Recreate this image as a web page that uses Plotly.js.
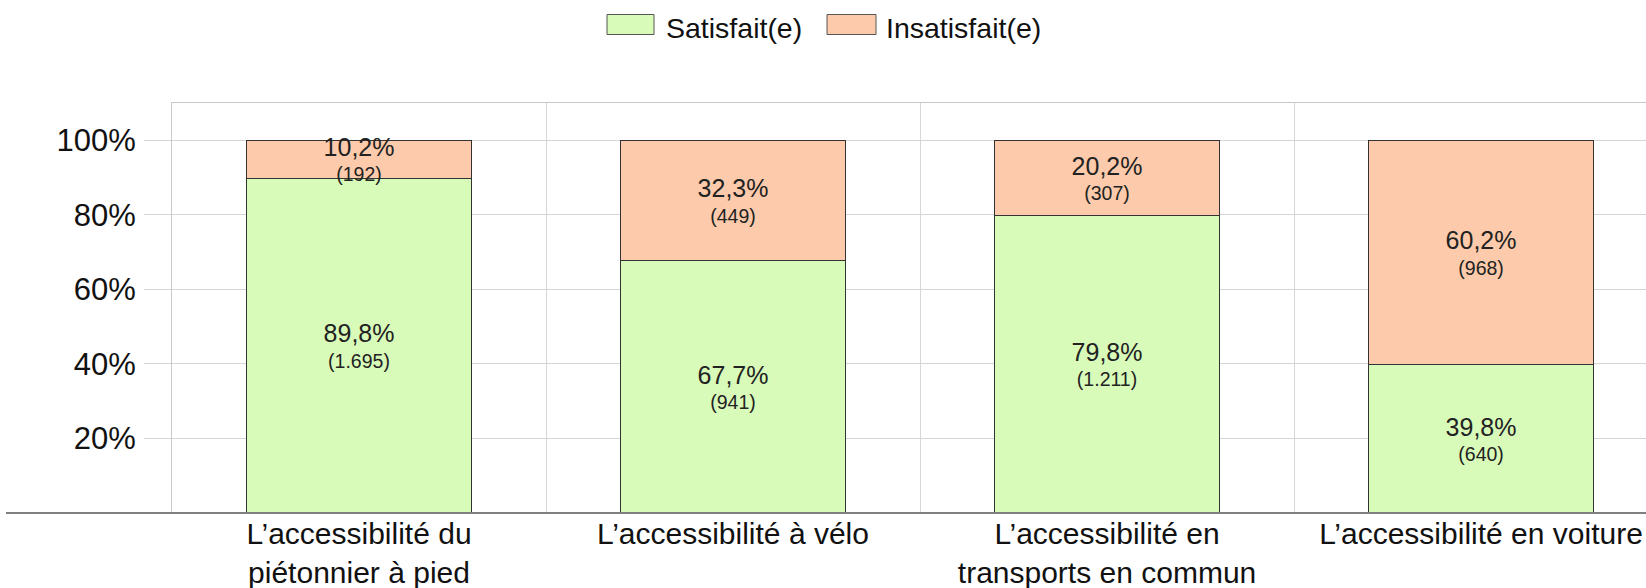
<!DOCTYPE html>
<html>
<head>
<meta charset="utf-8">
<script src="https://cdn.plot.ly/plotly-3.0.1.min.js"></script>
<style>
html, body { margin: 0; padding: 0; background: #ffffff; overflow: hidden; }
#chart { width: 1646px; height: 588px; }
</style>
</head>
<body>
<div id="chart"></div>
<script>
// ---- data ----
const categories = [
  "L\u2019accessibilité du<br>piétonnier à pied",
  "L\u2019accessibilité à vélo",
  "L\u2019accessibilité en<br>transports en commun",
  "L\u2019accessibilité en voiture"
];
const seriesNames = ["Satisfait(e)", "Insatisfait(e)"];
const satisfaitPct = [89.8, 67.7, 79.8, 39.8];
const satisfaitCount = [1695, 941, 1211, 640];
const insatisfaitPct = [10.2, 32.3, 20.2, 60.2];
const insatisfaitCount = [192, 449, 307, 968];
const yTickValues = [20, 40, 60, 80, 100];
const yTickLabels = ["20%", "40%", "60%", "80%", "100%"];

// ---- style ----
const FONT = "Liberation Sans, Arial, sans-serif";
const seriesColors = ["#d9fbb9", "#fdcbab"];
const W = 1646, H = 588;
const ML = 172, MR = 0, MT = 103, MB = 75;
const PW = W - ML - MR, PH = H - MT - MB;
const px = x => (x - ML) / PW;
const py = y => (H - MB - y) / PH;

const labelTemplate = "<span style='font-size:25px'>%{value:.1f}%</span><br>(%{customdata:,})";

function barTrace(name, values, counts, color) {
  return {
    type: "bar",
    name: name,
    x: categories,
    y: values,
    customdata: counts,
    width: 0.6,
    marker: { color: color, line: { color: "#333333", width: 1 } },
    texttemplate: labelTemplate,
    textposition: "inside",
    insidetextanchor: "middle",
    constraintext: "none",
    textangle: 0,
    textfont: { family: FONT, size: 19.5, color: "#222222" },
    cliponaxis: false,
    hoverinfo: "skip",
    showlegend: false
  };
}

const traces = [
  barTrace(seriesNames[0], satisfaitPct, satisfaitCount, seriesColors[0]),
  barTrace(seriesNames[1], insatisfaitPct, insatisfaitCount, seriesColors[1])
];

// custom legend (wide swatches like the reference)
const legendItems = [
  { x0: 607, x1: 654, tx: 664 },
  { x0: 827, x1: 876, tx: 884 }
];
const shapes = [];
const annotations = [];
legendItems.forEach((it, i) => {
  shapes.push({
    type: "rect", xref: "paper", yref: "paper",
    x0: px(it.x0), x1: px(it.x1), y0: py(34.5), y1: py(14.5),
    fillcolor: seriesColors[i], line: { color: "#555555", width: 1 }
  });
  annotations.push({
    xref: "paper", yref: "paper", x: px(it.tx), y: py(28),
    xanchor: "left", yanchor: "middle", showarrow: false,
    text: seriesNames[i],
    font: { family: FONT, size: 28.5, color: "#111111" }
  });
});
// dark baseline extending to the left
shapes.push({
  type: "line", xref: "paper", yref: "paper",
  x0: px(6), x1: 1, y0: 0, y1: 0,
  line: { color: "#808080", width: 2 }
});

const layout = {
  width: W, height: H,
  margin: { l: ML, r: MR, t: MT, b: MB, pad: 0 },
  paper_bgcolor: "#ffffff",
  plot_bgcolor: "#ffffff",
  barmode: "stack",
  separators: ",.",
  showlegend: false,
  font: { family: FONT, color: "#111111" },
  xaxis: {
    type: "category",
    range: [-0.5, 3.441],
    tickson: "boundaries",
    showgrid: true,
    gridcolor: "#d6d6d6",
    gridwidth: 1,
    ticks: "",
    showline: true,
    linecolor: "#c8c8c8",
    linewidth: 1,
    mirror: true,
    ticklabelstandoff: -6,
    tickfont: { family: FONT, size: 30, color: "#111111" },
    fixedrange: true
  },
  yaxis: {
    range: [0, 110],
    tickmode: "array",
    tickvals: yTickValues,
    ticktext: yTickLabels,
    showgrid: true,
    gridcolor: "#d6d6d6",
    gridwidth: 1,
    zeroline: false,
    ticks: "outside",
    ticklen: 27,
    tickcolor: "#d6d6d6",
    tickwidth: 1,
    ticklabelstandoff: 2,
    showline: true,
    linecolor: "#c8c8c8",
    linewidth: 1,
    tickfont: { family: FONT, size: 31, color: "#111111" },
    fixedrange: true
  },
  shapes: shapes,
  annotations: annotations
};

Plotly.newPlot("chart", traces, layout, { displayModeBar: false, staticPlot: true });
</script>
</body>
</html>
